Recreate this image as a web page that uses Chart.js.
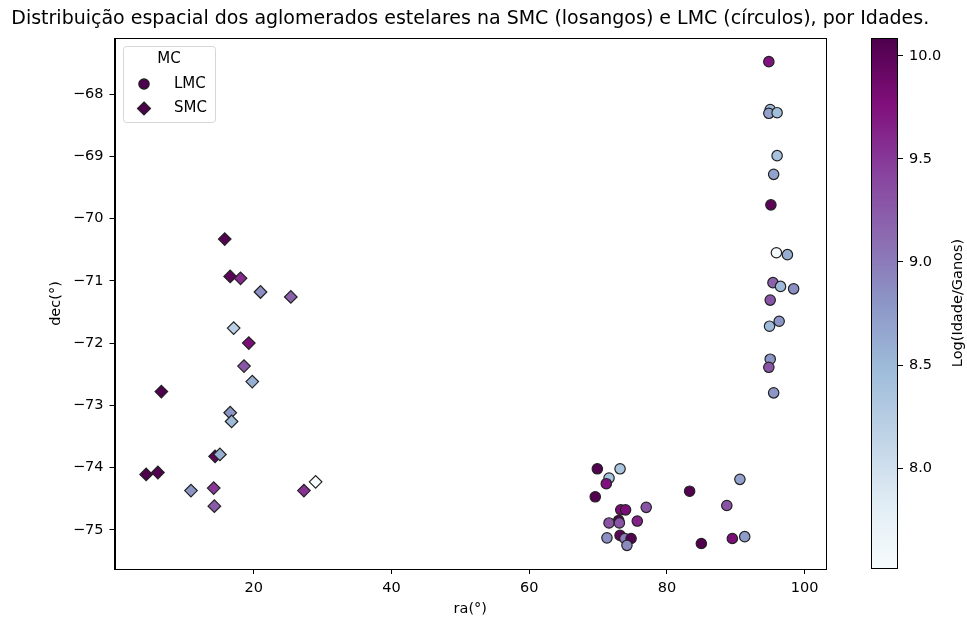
<!DOCTYPE html>
<html>
<head>
<meta charset="utf-8">
<script src="https://cdn.jsdelivr.net/npm/chart.js@4.4.1/dist/chart.umd.min.js"></script>
<style>
  body { margin: 0; background: #fff; }
  #wrap { position: relative; width: 967px; height: 619px; }
  #mainChart { position: absolute; left: 0; top: 0; }
  #cbChart { position: absolute; left: 860px; top: 0; }
</style>
</head>
<body>
<div id="wrap">
  <canvas id="mainChart" width="967" height="619"></canvas>
  <canvas id="cbChart" width="107" height="619"></canvas>
</div>
<script>
// LMC (circulos)
var lmcRa  = [69.9, 73.2, 71.6, 71.2, 69.6, 83.3, 90.6, 73.3, 74.0, 77.0, 88.7, 73.0, 71.6, 73.1,
              75.7, 71.3, 73.2, 73.9, 74.8, 74.2, 85.0, 89.5, 91.3, 94.8, 95.0, 94.8, 96.0, 96.0,
              95.5, 95.1, 95.9, 97.5, 95.4, 96.5, 98.4, 95.0, 96.3, 94.9, 95.0, 94.8, 95.5];
var lmcDec = [-74.02, -74.02, -74.17, -74.26, -74.47, -74.38, -74.19, -74.68, -74.68, -74.64, -74.61,
              -74.85, -74.89, -74.89, -74.86, -75.13, -75.09, -75.14, -75.14, -75.25, -75.22, -75.14,
              -75.11, -67.48, -68.25, -68.31, -68.30, -68.99, -69.29, -69.78, -70.55, -70.58, -71.03,
              -71.09, -71.13, -71.31, -71.65, -71.73, -72.26, -72.39, -72.80];
var lmcAge = [10.05, 8.35, 8.4, 9.75, 10.05, 10.05, 8.7, 9.8, 9.8, 9.3, 9.3, 10.05, 9.3, 9.3,
              9.65, 8.85, 10.0, 9.0, 10.05, 8.9, 10.07, 9.8, 8.75, 9.75, 8.5, 8.7, 8.45, 8.4,
              8.7, 10.0, 7.55, 8.6, 9.2, 8.5, 8.85, 9.3, 8.8, 8.5, 8.8, 9.3, 8.8];

// SMC (losangos)
var smcRa  = [15.8, 16.6, 18.1, 21.0, 25.4, 17.1, 19.3, 18.6, 19.8, 6.6, 16.6, 16.8, 14.4, 15.1,
              4.4, 6.1, 10.9, 14.2, 14.3, 27.3, 29.0];
var smcDec = [-70.33, -70.93, -70.96, -71.18, -71.26, -71.76, -72.0, -72.37, -72.62, -72.78, -73.12,
              -73.26, -73.82, -73.79, -74.11, -74.08, -74.37, -74.33, -74.62, -74.37, -74.23];
var smcAge = [10.05, 10.0, 9.6, 8.85, 9.2, 8.2, 9.8, 9.3, 8.6, 10.08, 8.8, 8.5, 10.0, 8.6,
              10.08, 10.05, 8.8, 9.5, 9.25, 9.55, 7.52];

var xTicks = [20, 40, 60, 80, 100];
var yTicks = [-75, -74, -73, -72, -71, -70, -69, -68];
var cbTicks = [8.0, 8.5, 9.0, 9.5, 10.0];

var ageMin = 7.515, ageMax = 10.087;

var titleText = 'Distribuição espacial dos aglomerados estelares na SMC (losangos) e LMC (círculos), por Idades.';

// BuPu
var bupu = ['#f7fcfd', '#e0ecf4', '#bfd3e6', '#9ebcda', '#8c96c6', '#8c6bb1', '#88419d', '#810f7c', '#4d004b'];

function hexRgb(h) {
    return [parseInt(h.substr(1, 2), 16), parseInt(h.substr(3, 2), 16), parseInt(h.substr(5, 2), 16)];
}

function ageColor(a) {
    var t = (a - ageMin) / (ageMax - ageMin);
    t = Math.max(0, Math.min(1, t)) * (bupu.length - 1);
    var i = Math.min(Math.floor(t), bupu.length - 2);
    var f = t - i;
    var c0 = hexRgb(bupu[i]), c1 = hexRgb(bupu[i + 1]);
    var c = c0.map(function (v, k) { return Math.round(v + (c1[k] - v) * f); });
    return 'rgb(' + c.join(',') + ')';
}

function pts(xs, ys) {
    return xs.map(function (x, i) { return { x: x, y: ys[i] }; });
}

function minus(v) {
    return v < 0 ? '\u2212' + Math.abs(v) : String(v);
}

var font = 'DejaVu Sans';

var frame = {
    id: 'frame',
    afterDraw: function (chart) {
        var a = chart.chartArea, c = chart.ctx;
        c.save();
        c.strokeStyle = '#000';
        c.lineWidth = 1;
        c.strokeRect(Math.round(a.left) + 0.5, Math.round(a.top) + 0.5,
            Math.round(a.right - a.left) - 1, Math.round(a.bottom - a.top));
        // titulo
        c.fillStyle = '#000';
        c.font = '19px ' + font;
        c.textAlign = 'center';
        c.textBaseline = 'middle';
        c.fillText(titleText, (a.left + a.right) / 2, 19.5);
        c.restore();
    }
};

var boxLegend = {
    id: 'boxLegend',
    afterDraw: function (chart) {
        var c = chart.ctx;
        c.save();
        c.beginPath();
        c.roundRect(123.5, 46.5, 92, 76, 3);
        c.fillStyle = 'rgba(255,255,255,0.8)';
        c.fill();
        c.strokeStyle = '#d6d6d6';
        c.lineWidth = 1;
        c.stroke();
        c.fillStyle = '#000';
        c.font = '15px ' + font;
        c.textAlign = 'center';
        c.textBaseline = 'middle';
        c.fillText('MC', 169, 59);
        c.textAlign = 'left';
        chart.data.datasets.forEach(function (ds, i) {
            var y = 84 + i * 24.5, x = 144;
            c.beginPath();
            if (ds.pointStyle === 'rectRot') {
                c.moveTo(x, y - 6.5); c.lineTo(x + 6.5, y); c.lineTo(x, y + 6.5); c.lineTo(x - 6.5, y); c.closePath();
            } else {
                c.arc(x, y, 5.2, 0, Math.PI * 2);
            }
            c.fillStyle = '#4d004b';
            c.fill();
            c.strokeStyle = '#222';
            c.lineWidth = 1.2;
            c.stroke();
            c.fillStyle = '#000';
            c.fillText(ds.label, 174, y);
        });
        c.restore();
    }
};

var ctx = document.getElementById('mainChart').getContext('2d');
var mainChart = new Chart(ctx, {
    type: 'scatter',
    data: {
        datasets: [{
            label: 'LMC',
            data: pts(lmcRa, lmcDec),
            pointStyle: 'circle',
            pointRadius: 5.2,
            pointHoverRadius: 5.2,
            backgroundColor: lmcAge.map(ageColor),
            borderColor: '#222',
            borderWidth: 1.2
        }, {
            label: 'SMC',
            data: pts(smcRa, smcDec),
            pointStyle: 'rectRot',
            pointRadius: 6.3,
            pointHoverRadius: 6.3,
            backgroundColor: smcAge.map(ageColor),
            borderColor: '#222',
            borderWidth: 1.2
        }]
    },
    options: {
        responsive: false,
        animation: false,
        layout: { padding: { left: 48, right: 141, top: 38, bottom: 0 } },
        plugins: {
            legend: { display: false },
            tooltip: { enabled: false },
            title: { display: false }
        },
        scales: {
            x: {
                type: 'linear',
                min: -0.2,
                max: 103.1,
                afterBuildTicks: function (s) { s.ticks = xTicks.map(function (v) { return { value: v }; }); },
                afterFit: function (s) { s.height = 50; },
                grid: { drawOnChartArea: false, color: '#000', tickLength: 5, tickWidth: 1 },
                border: { display: true, color: '#000', width: 1 },
                ticks: { color: '#000', font: { family: font, size: 14.5 }, padding: 6, maxRotation: 0 },
                title: { display: true, text: 'ra(°)', color: '#000', font: { family: font, size: 14.5 }, padding: { top: 0, bottom: 1 } }
            },
            y: {
                type: 'linear',
                min: -75.63,
                max: -67.10,
                afterBuildTicks: function (s) { s.ticks = yTicks.map(function (v) { return { value: v }; }); },
                afterFit: function (s) { s.width = 66.5; },
                grid: { drawOnChartArea: false, color: '#000', tickLength: 5, tickWidth: 1 },
                border: { display: true, color: '#000', width: 1 },
                ticks: { color: '#000', font: { family: font, size: 14.5 }, padding: 6, callback: minus },
                title: { display: true, text: 'dec(°)', color: '#000', font: { family: font, size: 14.5 }, padding: { top: 0, bottom: 0 } }
            }
        }
    },
    plugins: [frame, boxLegend]
});

// barra de cores
var cbPaint = {
    id: 'cbPaint',
    beforeDatasetsDraw: function (chart) {
        var a = chart.chartArea, c = chart.ctx;
        var g = c.createLinearGradient(0, a.bottom, 0, a.top);
        bupu.forEach(function (col, i) { g.addColorStop(i / (bupu.length - 1), col); });
        c.save();
        c.fillStyle = g;
        c.fillRect(a.left, a.top, a.right - a.left, a.bottom - a.top);
        c.strokeStyle = '#000';
        c.lineWidth = 1;
        c.strokeRect(a.left + 0.5, a.top + 0.5, a.right - a.left - 1, a.bottom - a.top);
        c.translate(98, (a.top + a.bottom) / 2);
        c.rotate(-Math.PI / 2);
        c.fillStyle = '#000';
        c.font = '14.5px ' + font;
        c.textAlign = 'center';
        c.textBaseline = 'middle';
        c.fillText('Log(Idade/Ganos)', 0, 0);
        c.restore();
    }
};

var cbChart = new Chart(document.getElementById('cbChart').getContext('2d'), {
    type: 'scatter',
    data: { datasets: [{ data: [] }] },
    options: {
        responsive: false,
        animation: false,
        layout: { padding: { left: 11, right: 0, top: 38, bottom: 51 } },
        plugins: { legend: { display: false }, tooltip: { enabled: false } },
        scales: {
            x: { display: false, min: 0, max: 1 },
            y: {
                position: 'right',
                min: ageMin,
                max: ageMax,
                afterBuildTicks: function (s) { s.ticks = cbTicks.map(function (v) { return { value: v }; }); },
                afterFit: function (s) { s.width = 69; },
                grid: { drawOnChartArea: false, color: '#000', tickLength: 5, tickWidth: 1 },
                border: { display: false },
                ticks: { color: '#000', font: { family: font, size: 14.5 }, padding: 6,
                    callback: function (v) { return v.toFixed(1); } }
            }
        }
    },
    plugins: [cbPaint]
});
</script>
</body>
</html>
